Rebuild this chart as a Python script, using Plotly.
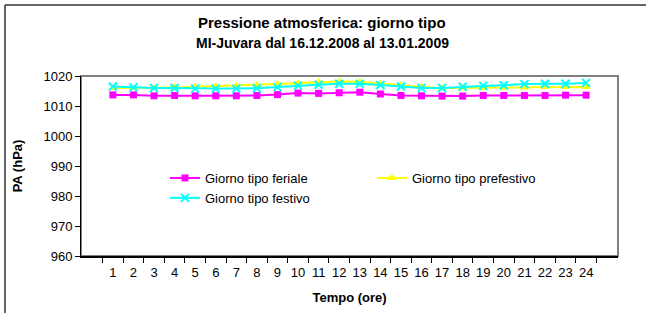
import plotly.graph_objects as go

hours = [str(h) for h in range(1, 25)]
feriale = [1013.7, 1013.7, 1013.4, 1013.5, 1013.4, 1013.4, 1013.4, 1013.5, 1013.8, 1014.3, 1014.2, 1014.4,
           1014.6, 1014.0, 1013.5, 1013.4, 1013.3, 1013.3, 1013.5, 1013.5, 1013.5, 1013.5, 1013.6, 1013.6]
prefestivo = [1016.0, 1016.0, 1016.0, 1016.2, 1016.4, 1016.6, 1016.7, 1016.9, 1017.3, 1017.7, 1018.0, 1018.2,
              1018.1, 1017.5, 1016.9, 1016.3, 1016.0, 1016.0, 1016.0, 1016.1, 1016.2, 1016.3, 1016.3, 1016.3]
festivo = [1016.5, 1016.2, 1016.0, 1016.0, 1015.8, 1015.8, 1015.8, 1015.9, 1016.3, 1016.8, 1017.1, 1017.4,
           1017.4, 1017.0, 1016.5, 1016.0, 1016.0, 1016.4, 1016.7, 1016.9, 1017.3, 1017.4, 1017.4, 1017.7]
series_names = ["Giorno tipo feriale", "Giorno tipo prefestivo", "Giorno tipo festivo"]
y_ticks = [960, 970, 980, 990, 1000, 1010, 1020]

FONT = "Liberation Sans, Arial, sans-serif"
W, H = 646, 313
L, R, T, B = 81, 28, 76, 57
pw, ph = W - L - R, H - T - B


def px_x(p):
    return (p - L) / pw


def px_y(p):
    return (H - B - p) / ph


fig = go.Figure()
fig.add_trace(go.Scatter(x=hours, y=feriale, name=series_names[0], mode="lines+markers",
                         line=dict(color="#FF00FF", width=2),
                         marker=dict(symbol="square", size=7, color="#FF00FF")))
fig.add_trace(go.Scatter(x=hours, y=prefestivo, name=series_names[1], mode="lines+markers",
                         line=dict(color="#FFFF00", width=2),
                         marker=dict(symbol="triangle-up", size=8, color="#FFFF00")))
fig.add_trace(go.Scatter(x=hours, y=festivo, name=series_names[2], mode="lines+markers",
                         line=dict(color="#00FFFF", width=2),
                         marker=dict(symbol="x-thin", size=8, line=dict(color="#00FFFF", width=2))))

fig.update_layout(
    width=W, height=H,
    margin=dict(l=L, r=R, t=T, b=B, autoexpand=False),
    paper_bgcolor="white", plot_bgcolor="white",
    font=dict(family=FONT, size=13, color="black"),
    showlegend=True,
    legend=dict(orientation="h", x=px_x(165), xanchor="left", y=px_y(163), yanchor="top",
                bgcolor="rgba(0,0,0,0)", entrywidth=162, entrywidthmode="pixels",
                font=dict(size=13, family=FONT)),
    xaxis=dict(type="category", tickson="boundaries", ticks="outside", ticklen=5, tickcolor="black",
               showline=True, linecolor="black", linewidth=2, showgrid=False, zeroline=False,
               tickangle=0, automargin=False, tickfont=dict(size=13), ticklabelstandoff=3,
               title=dict(text="<b>Tempo (ore)</b>", font=dict(size=13), standoff=14)),
    yaxis=dict(range=[960, 1020], tickvals=y_ticks, ticks="outside", ticklen=5, tickcolor="black",
               showline=True, linecolor="black", linewidth=1, showgrid=False, zeroline=False,
               automargin=False, tickfont=dict(size=13),
               title=dict(text="<b>PA (hPa)</b>", font=dict(size=13), standoff=17)),
    annotations=[
        dict(text="<b>Pressione atmosferica: giorno tipo</b>", xref="paper", yref="paper",
             x=px_x(322), y=px_y(22.5), xanchor="center", yanchor="middle", showarrow=False,
             font=dict(size=15)),
        dict(text="<b>MI-Juvara dal 16.12.2008 al 13.01.2009</b>", xref="paper", yref="paper",
             x=px_x(322), y=px_y(43.5), xanchor="center", yanchor="middle", showarrow=False,
             font=dict(size=14)),
    ],
    shapes=[
        dict(type="rect", xref="paper", yref="paper", x0=0, x1=1, y0=0, y1=1,
             line=dict(color="#808080", width=2), layer="below"),
        dict(type="line", xref="paper", yref="paper", x0=px_x(5), x1=px_x(646), y0=px_y(5), y1=px_y(5),
             line=dict(color="#333333", width=1.5), layer="below"),
        dict(type="line", xref="paper", yref="paper", x0=px_x(5), x1=px_x(5), y0=px_y(5), y1=px_y(313),
             line=dict(color="#333333", width=1.5), layer="below"),
    ],
)

fig.write_html("out.html", config={"displayModeBar": False},
               post_script="document.body.style.margin='0';document.body.style.overflow='hidden';"
                           "document.documentElement.style.overflow='hidden';")
